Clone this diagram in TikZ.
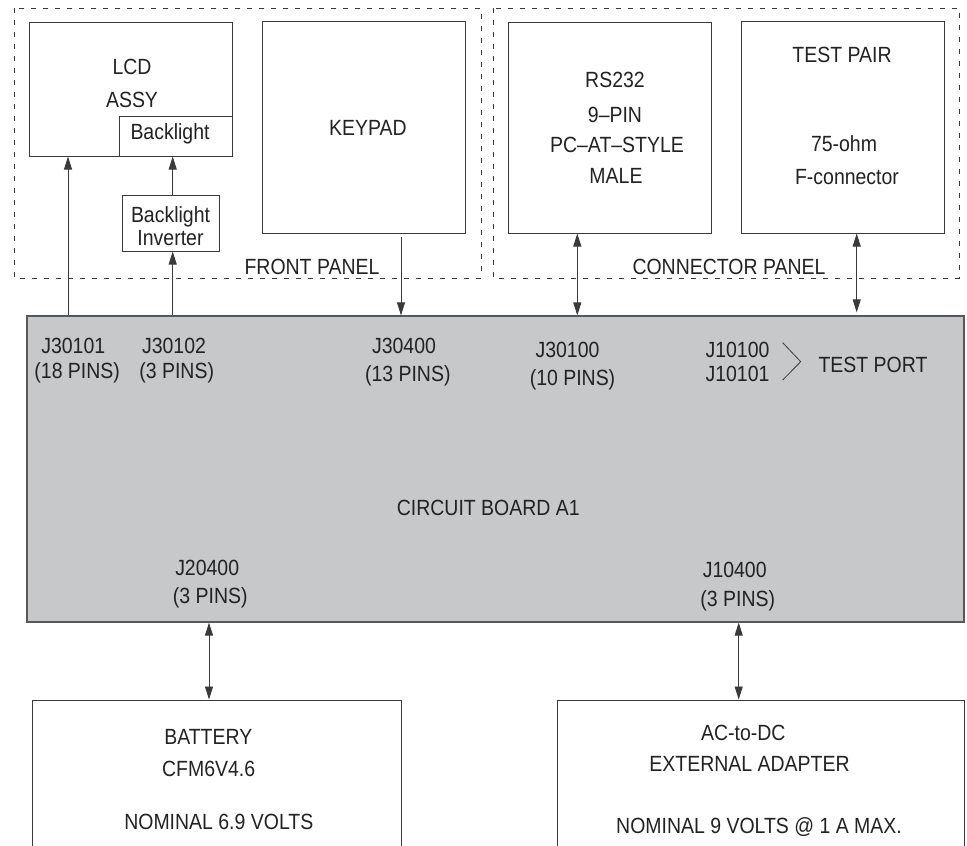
\documentclass[tikz,border=0pt]{standalone}
\usepackage{fontspec}
\setmainfont{Liberation Sans}[FakeStretch=0.885]
\usetikzlibrary{arrows.meta}
\definecolor{linec}{HTML}{3A3A3A}
\definecolor{txtc}{HTML}{222222}
\definecolor{boardc}{HTML}{C7C8CA}
\tikzset{
  box/.style={draw=linec, line width=1pt, inner sep=0pt, minimum width=#1},
  panel/.style={draw=linec, line width=0.8pt, dash pattern=on 5pt off 7pt},
  lbl/.style={inner sep=0pt, text=txtc, font=\fontsize{22}{26}\selectfont, text height=15.8pt, text depth=0pt},
  conn/.style={draw=linec, line width=0.9pt, -{Triangle[length=13pt,width=8pt]}},
  dconn/.style={draw=linec, line width=0.9pt, {Triangle[length=13pt,width=8pt]}-{Triangle[length=13pt,width=8pt]}}
}
\begin{document}
\begin{tikzpicture}[x=1pt,y=-1pt]
\clip (0,0) rectangle (967,846);
\fill[white] (0,0) rectangle (967,846);

% panels
\draw[panel] (14,8) rectangle (481,278);
\draw[panel] (493,8) rectangle (959,278);

% boxes
\node[box=203pt, minimum height=134pt] (lcd) at (130.5,89) {};
\node[box=113pt, minimum height=40pt] (bl) at (175.5,136) {};
\node[box=97pt, minimum height=56pt] (inv) at (170.5,223) {};
\node[box=203pt, minimum height=212pt] (kp) at (363.5,127) {};
\node[box=203pt, minimum height=211pt] (rs) at (609.5,127.5) {};
\node[box=203pt, minimum height=212pt] (tp) at (842.5,127) {};
\node[box=937pt, minimum height=306pt, fill=boardc, line width=1.2pt, draw=linec!85] (board) at (495.5,469) {};
\node[box=369pt, minimum height=200pt] (bat) at (216.5,800) {};
\node[box=407pt, minimum height=200pt] (ada) at (760.8,800) {};

% texts
\node[lbl] (tlcd) at (132,67) {LCD};
\node[lbl] (tassy) at (132,100) {ASSY};
\node[lbl] (tbl) at (170,132) {Backlight};
\node[lbl] (tinv1) at (170.5,215) {Backlight};
\node[lbl] (tinv2) at (170.5,238) {Inverter};
\node[lbl] (tkp) at (368,128) {KEYPAD};
\node[lbl] (tfp) at (312,267) {FRONT PANEL};
\node[lbl] (trs1) at (615,80) {RS232};
\node[lbl] (trs2) at (615,115) {9–PIN};
\node[lbl] (trs3) at (617,145) {PC–AT–STYLE};
\node[lbl] (trs4) at (616,176) {MALE};
\node[lbl] (ttp1) at (842,55) {TEST PAIR};
\node[lbl] (ttp2) at (844,144) {75-ohm};
\node[lbl] (ttp3) at (847,177) {F-connector};
\node[lbl] (tcp) at (729,267) {CONNECTOR PANEL};

\node[lbl] (j1a) at (73.3,346) {J30101};
\node[lbl] (j1b) at (77.2,371) {(18 PINS)};
\node[lbl] (j2a) at (174,346) {J30102};
\node[lbl] (j2b) at (176.7,371) {(3 PINS)};
\node[lbl] (j3a) at (404,346) {J30400};
\node[lbl] (j3b) at (407.8,374) {(13 PINS)};
\node[lbl] (j4a) at (567.5,349.5) {J30100};
\node[lbl] (j4b) at (572.5,378) {(10 PINS)};
\node[lbl] (j5a) at (737.5,349.5) {J10100};
\node[lbl] (j5b) at (737.5,374) {J10101};
\node[lbl] (ttport) at (873,365) {TEST PORT};
\node[lbl] (tboard) at (488.3,507.5) {CIRCUIT BOARD A1};
\node[lbl] (j6a) at (207.2,567.7) {J20400};
\node[lbl] (j6b) at (210.3,595.5) {(3 PINS)};
\node[lbl] (j7a) at (734.7,569.7) {J10400};
\node[lbl] (j7b) at (737.8,598.8) {(3 PINS)};

\node[lbl] (tbat1) at (208.3,736.7) {BATTERY};
\node[lbl] (tbat2) at (208.7,768.7) {CFM6V4.6};
\node[lbl] (tbat3) at (218.8,821.7) {NOMINAL 6.9 VOLTS};
\node[lbl] (tada1) at (743.3,732.5) {AC-to-DC};
\node[lbl] (tada2) at (749.5,763.3) {EXTERNAL ADAPTER};
\node[lbl] (tada3) at (759,826) {NOMINAL 9 VOLTS @ 1 A MAX.};

% chevron
\coordinate (cvt) at (782.7,342.7);
\coordinate (cvm) at (800.7,361.7);
\coordinate (cvb) at (782.7,380);
\draw[linec, line width=0.8pt] (cvt) -- (cvm) -- (cvb);

% connector x positions
\coordinate (xa) at (68,0);
\coordinate (xb) at (172.7,0);
\coordinate (xc) at (401,0);
\coordinate (xd) at (577.3,0);
\coordinate (xe) at (856.7,0);
\coordinate (xf) at (209,0);
\coordinate (xg) at (738.7,0);

\draw[conn] (xa |- board.north) -- (xa |- lcd.south);
\draw[conn] (xb |- board.north) -- (xb |- inv.south);
\draw[conn] (xb |- inv.north) -- (xb |- bl.south);
\draw[conn, shorten <=3pt] (xc |- kp.south) -- (xc |- board.north);
\draw[dconn] (xd |- rs.south) -- (xd |- board.north);
\draw[dconn, shorten >=3pt] (xe |- tp.south) -- (xe |- board.north);
\draw[dconn] (xf |- board.south) -- (xf |- bat.north);
\draw[dconn] (xg |- board.south) -- (xg |- ada.north);
\end{tikzpicture}
\end{document}
